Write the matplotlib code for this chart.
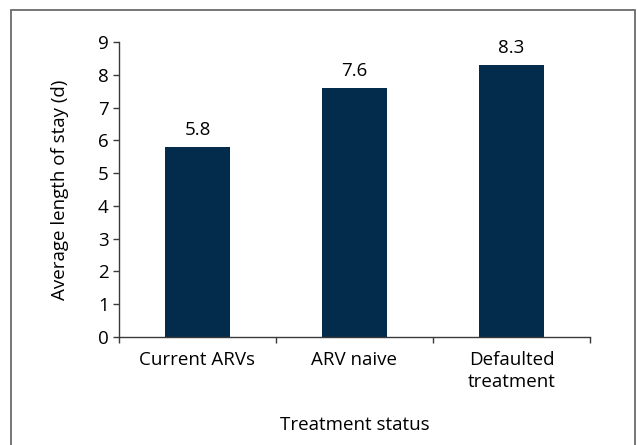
import matplotlib
matplotlib.use("Agg")
import matplotlib.pyplot as plt
from matplotlib.patches import Rectangle
import numpy as np

categories = ["Current ARVs", "ARV naive", "Defaulted\ntreatment"]
values = [5.8, 7.6, 8.3]
y_ticks = list(range(0, 10))

bar_color = "#022b4c"
axis_color = "#3a3a3a"
fs = 13.5

plt.rcParams["font.family"] = ["Open Sans", "DejaVu Sans"]

fig = plt.figure(figsize=(6.37, 4.45), dpi=100)
ax = fig.add_axes([0.1868, 0.2427, 0.9262 - 0.1868, 0.9056 - 0.2427])

# outer frame around the whole figure
fig.patches.append(Rectangle((0.0173, -0.02), 0.9796, 0.9975, transform=fig.transFigure,
                             fill=False, edgecolor="#6b6b6b", linewidth=1.3))

x = np.arange(len(categories))
bars = ax.bar(x, values, width=0.41, color=bar_color)
for b, v in zip(bars, values):
    ax.annotate("{:.1f}".format(v), (b.get_x() + b.get_width() / 2, v),
                xytext=(0, 5.5), textcoords="offset points",
                ha="center", va="bottom", fontsize=fs)

ax.set_xlim(-0.5, len(categories) - 0.5)
ax.set_ylim(0, 9)
ax.set_yticks(y_ticks)
ax.set_xticks(x)
ax.set_xticklabels(categories, fontsize=fs, linespacing=1.3)
ax.set_xticks(np.arange(-0.5, len(categories)), minor=True)
ax.tick_params(axis="x", which="major", length=0, pad=10)
ax.tick_params(axis="x", which="minor", length=4.5, width=1, color=axis_color)
ax.tick_params(axis="y", length=4.5, width=1, color=axis_color, labelsize=fs, pad=3)

for s in ["top", "right"]:
    ax.spines[s].set_visible(False)
for s in ["left", "bottom"]:
    ax.spines[s].set_color(axis_color)
    ax.spines[s].set_linewidth(1)

ax.set_ylabel("Average length of stay (d)", fontsize=fs, labelpad=21)
ax.set_xlabel("Treatment status", fontsize=fs, labelpad=18)

fig.savefig("out.png", dpi=100)
